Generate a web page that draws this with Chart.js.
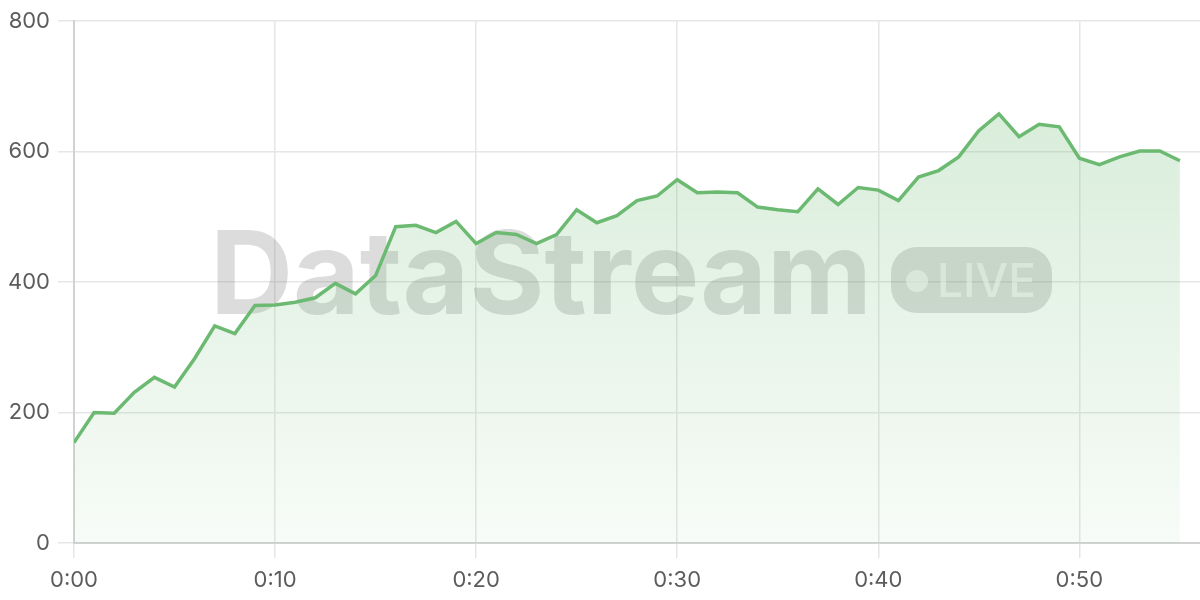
<!DOCTYPE html>
<html>
<head>
<meta charset="utf-8">
<script src="https://cdn.jsdelivr.net/npm/chart.js@4.4.1/dist/chart.umd.min.js"></script>
<style>
  html, body { margin: 0; padding: 0; background: #fff; }
  #wrap { width: 1200px; height: 600px; }
</style>
</head>
<body>
<div id="wrap"><canvas id="chart"></canvas></div>
<script>
// minutes since start, one reading per minute
var minutes = [0,1,2,3,4,5,6,7,8,9,10,11,12,13,14,15,16,17,18,19,20,21,22,23,24,25,26,27,
               28,29,30,31,32,33,34,35,36,37,38,39,40,41,42,43,44,45,46,47,48,49,50,51,52,53,54,55];
var viewers = [154,200,199,231,254,239,283,333,321,364,365,369,376,398,382,410,485,487,476,493,
               459,476,473,459,473,511,491,502,525,532,557,537,538,537,515,511,508,543,519,545,
               541,525,561,571,592,632,658,623,642,638,590,580,592,601,601,586];
var xTicks = [0,10,20,30,40,50];
var yTicks = [0,200,400,600,800];

var lineColor = 'rgb(108,186,114)';

var watermark = {
  id: 'watermark',
  beforeDatasetsDraw: function(chart) {
    var ctx = chart.ctx;
    ctx.save();
    ctx.fillStyle = 'rgba(120,120,120,0.26)';
    ctx.font = 'bold 115px Inter';
    ctx.textBaseline = 'alphabetic';
    ctx.textAlign = 'left';
    ctx.fillText('DataStream', 210, 314);

    // LIVE badge
    var bx = 891, by = 247, bw = 161, bh = 66, r = 26;
    ctx.beginPath();
    ctx.moveTo(bx + r, by);
    ctx.arcTo(bx + bw, by, bx + bw, by + bh, r);
    ctx.arcTo(bx + bw, by + bh, bx, by + bh, r);
    ctx.arcTo(bx, by + bh, bx, by, r);
    ctx.arcTo(bx, by, bx + bw, by, r);
    ctx.closePath();
    ctx.fill();

    ctx.fillStyle = 'rgba(255,255,255,0.6)';
    ctx.beginPath();
    ctx.arc(917, 281, 11, 0, Math.PI * 2);
    ctx.fill();
    ctx.font = '500 46px Inter';
    ctx.fillText('LIVE', 937, 297);
    ctx.restore();
  }
};

Chart.defaults.font.family = 'Inter, "Noto Sans", sans-serif';
Chart.defaults.color = '#5c5c5c';

var ctx = document.getElementById('chart').getContext('2d');
new Chart(ctx, {
  type: 'line',
  data: {
    datasets: [{
      label: 'Viewers',
      data: minutes.map(function(m, i) { return { x: m, y: viewers[i] }; }),
      borderColor: lineColor,
      borderWidth: 3.5,
      tension: 0,
      pointRadius: 0,
      fill: 'origin',
      backgroundColor: function(context) {
        var area = context.chart.chartArea;
        if (!area) return 'rgba(108,186,114,0.15)';
        var g = context.chart.ctx.createLinearGradient(0, area.top, 0, area.bottom);
        g.addColorStop(0, 'rgba(108,186,114,0.30)');
        g.addColorStop(1, 'rgba(108,186,114,0.05)');
        return g;
      }
    }]
  },
  options: {
    responsive: true,
    maintainAspectRatio: false,
    animation: false,
    layout: { padding: { top: 20, right: 0, bottom: 0, left: 0 } },
    plugins: { legend: { display: false }, tooltip: { enabled: false } },
    scales: {
      x: {
        type: 'linear',
        min: 0,
        max: 56,
        afterBuildTicks: function(scale) {
          scale.ticks = xTicks.map(function(v) { return { value: v }; });
        },
        afterFit: function(scale) { scale.height = 57; },
        ticks: {
          padding: 9,
          font: { size: 22 },
          maxRotation: 0,
          callback: function(v) { return '0:' + String(v).padStart(2, '0'); }
        },
        grid: { color: '#e6e6e6', lineWidth: 1.5, tickLength: 15 },
        border: { color: '#d2d2d2', width: 2 }
      },
      y: {
        min: 0,
        max: 800,
        afterBuildTicks: function(scale) {
          scale.ticks = yTicks.map(function(v) { return { value: v }; });
        },
        afterFit: function(scale) { scale.width = 74; },
        ticks: { padding: 8, font: { size: 22 } },
        grid: { color: '#e6e6e6', lineWidth: 1.5, tickLength: 16 },
        border: { color: '#d2d2d2', width: 2 }
      }
    }
  },
  plugins: [watermark]
});
</script>
</body>
</html>
